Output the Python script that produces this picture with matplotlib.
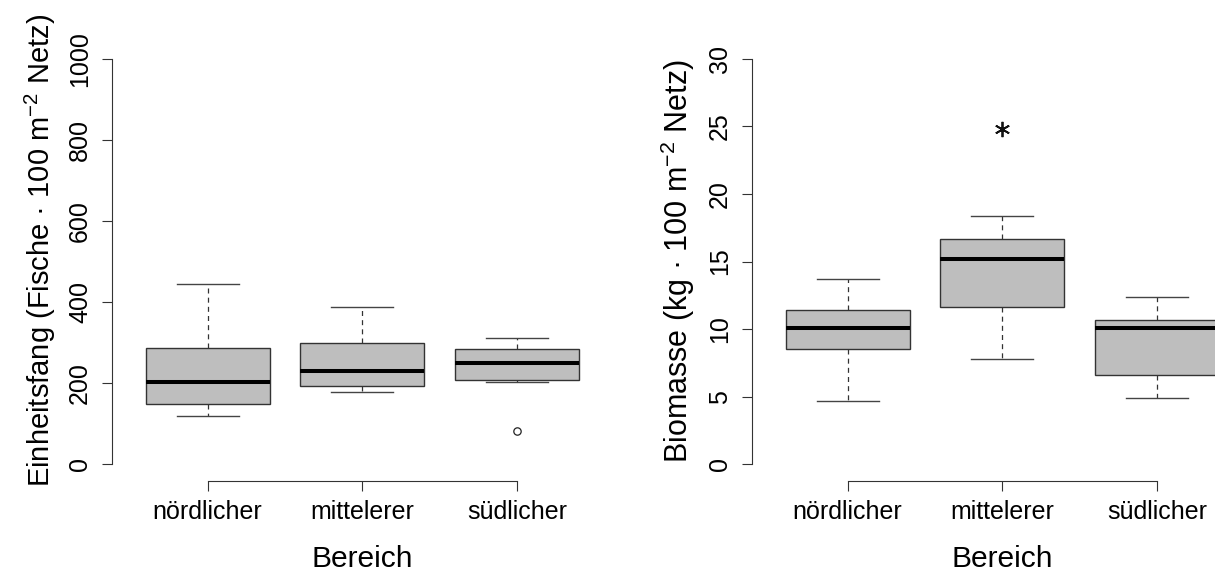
import matplotlib
matplotlib.use("Agg")
import matplotlib.pyplot as plt

plt.rcParams['font.family'] = ['Liberation Sans', 'DejaVu Sans']
plt.rcParams['mathtext.fontset'] = 'custom'
plt.rcParams['mathtext.rm'] = 'Liberation Sans'
plt.rcParams['mathtext.it'] = 'Liberation Sans'
plt.rcParams['mathtext.default'] = 'regular'
plt.rcParams['lines.scale_dashes'] = False

# categories (Bereich)
bereiche = ['nördlicher', 'mittelerer', 'südlicher']

# Einheitsfang (Fische / 100 m2 Netz)
ef_whislo = [120, 178, 202]
ef_q1 = [148, 194, 208]
ef_med = [204, 230, 249]
ef_q3 = [287, 300, 284]
ef_whishi = [444, 388, 312]
ef_fliers = [[], [], [82]]

# Biomasse (kg / 100 m2 Netz)
bm_whislo = [4.7, 7.8, 4.9]
bm_q1 = [8.5, 11.6, 6.6]
bm_med = [10.1, 15.2, 10.1]
bm_q3 = [11.4, 16.7, 10.7]
bm_whishi = [13.7, 18.4, 12.4]
bm_fliers = [[], [24.8], []]

ef_ticks = [0, 200, 400, 600, 800, 1000]
bm_ticks = [0, 5, 10, 15, 20, 25, 30]


def make_stats(lo, q1, med, q3, hi, fl):
    stats = []
    for i in range(len(bereiche)):
        stats.append({'whislo': lo[i], 'q1': q1[i], 'med': med[i],
                      'q3': q3[i], 'whishi': hi[i], 'fliers': fl[i]})
    return stats


def draw_panel(ax, stats, ticks, ylabel, flier_style, lab_size, lab_y, lab_x):
    ax.bxp(stats, positions=[1, 2, 3], widths=0.8, capwidths=0.4,
           patch_artist=True, showfliers=True,
           boxprops=dict(facecolor='#bebebe', edgecolor='#333333', linewidth=1.0),
           medianprops=dict(color='black', linewidth=2.9, solid_capstyle='butt'),
           whiskerprops=dict(color='#333333', linewidth=0.9, linestyle=(0, (3.6, 3.0))),
           capprops=dict(color='#444444', linewidth=1.0),
           flierprops=flier_style)
    top = ticks[-1]
    pad = 0.04 * (top - ticks[0])
    ax.set_xlim(0.38, 3.62)
    ax.set_ylim(ticks[0] - pad, top + pad)
    ax.set_xticks([1, 2, 3])
    ax.set_xticklabels(bereiche, fontsize=18)
    ax.set_yticks(ticks)
    ax.set_yticklabels([str(t) for t in ticks], fontsize=18)
    ax.tick_params(axis='y', labelrotation=90)
    for lab in ax.get_yticklabels():
        lab.set_va('center')
    ax.tick_params(direction='out', length=7.2, width=0.8, color='#333333', pad=7)
    for s in ['top', 'right']:
        ax.spines[s].set_visible(False)
    ax.spines['left'].set_bounds(ticks[0], top)
    ax.spines['bottom'].set_bounds(1, 3)
    for s in ['left', 'bottom']:
        ax.spines[s].set_linewidth(0.8)
        ax.spines[s].set_color('#333333')
    ax.set_xlabel('Bereich', fontsize=21.6, va='baseline')
    ax.xaxis.set_label_coords(0.5, -86 / 438)
    ax.set_ylabel(ylabel, fontsize=lab_size, va='baseline')
    ax.yaxis.set_label_coords(lab_x, lab_y)


fig = plt.figure(figsize=(12.15, 5.73), dpi=100)
ax1 = fig.add_axes([0.0920, 0.1614, 0.4125, 0.7644])
ax2 = fig.add_axes([0.6187, 0.1614, 0.4125, 0.7644])

draw_panel(ax1, make_stats(ef_whislo, ef_q1, ef_med, ef_q3, ef_whishi, ef_fliers),
           ef_ticks, 'Einheitsfang (Fische · 100 m$^{−2}$ Netz)',
           dict(marker='o', markersize=5.3, markerfacecolor='none',
                markeredgecolor='#222222', markeredgewidth=0.9),
           21, 0.525, -62 / 501.2)
draw_panel(ax2, make_stats(bm_whislo, bm_q1, bm_med, bm_q3, bm_whishi, bm_fliers),
           bm_ticks, 'Biomasse (kg · 100 m$^{−2}$ Netz)',
           dict(marker=(6, 2, 0), markersize=11, markeredgecolor='#111111',
                markeredgewidth=1.3),
           22, 0.5, -64 / 501.2)

fig.savefig('out.png', dpi=100)
